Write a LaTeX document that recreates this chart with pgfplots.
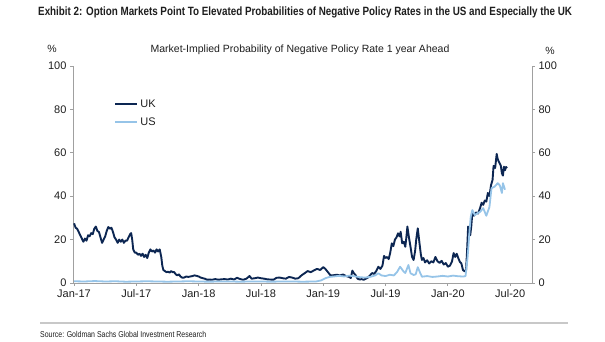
\documentclass[border=0pt]{standalone}
\usepackage{pgfplots}
\pgfplotsset{compat=1.18}
\usepackage{fontspec}
\setmainfont{Liberation Sans}
\newfontfamily\narrow[FakeStretch=0.82]{Liberation Sans}
\definecolor{ukc}{RGB}{12,38,82}
\definecolor{usc}{RGB}{150,196,232}
\definecolor{axc}{RGB}{160,160,160}
\definecolor{txc}{RGB}{30,30,30}
\begin{document}
\begin{tikzpicture}[x=1pt,y=1pt]
\useasboundingbox (0,0) rectangle (605,341);
\node[anchor=base west,inner sep=0pt,font=\narrow\bfseries\fontsize{12}{14}\selectfont,text=txc] at (38,325) {Exhibit 2: Option Markets Point To Elevated Probabilities of Negative Policy Rates in the US and Especially the UK};
\node[anchor=base,inner sep=0pt,font=\fontsize{10.5}{12}\selectfont,text=txc] at (300,289) {Market-Implied Probability of Negative Policy Rate 1 year Ahead};
\node[anchor=base,inner sep=0pt,font=\fontsize{10.5}{12}\selectfont,text=txc] at (52,288) {\%};
\node[anchor=base,inner sep=0pt,font=\fontsize{10.5}{12}\selectfont,text=txc] at (550,287) {\%};
\draw[color={rgb,255:red,200;green,200;blue,200},line width=1.5pt] (40,18) -- (568,18);
\node[anchor=base west,inner sep=0pt,font=\narrow\fontsize{8.5}{10}\selectfont,text=txc] at (40,4) {Source: Goldman Sachs Global Investment Research};
\begin{axis}[
  at={(73pt,58pt)}, anchor=south west,
  scale only axis, width=459pt, height=217pt,
  xmin=-0.1, xmax=44.1, ymin=0, ymax=100,
  axis x line*=bottom, axis y line*=left,
  axis line style={color=axc,line width=0.9pt},
  every tick/.style={color=axc,line width=0.9pt},
  tick align=outside, major tick length=3pt,
  xtick={0,6,12,18,24,30,36,42},
  xticklabels={Jan-17,Jul-17,Jan-18,Jul-18,Jan-19,Jul-19,Jan-20,Jul-20},
  ytick={0,20,40,60,80,100},
  ticklabel style={font=\fontsize{11}{13}\selectfont,text=txc},
  /pgf/number format/assume math mode=true,
  legend style={at={(rel axis cs:0.09,0.855)},anchor=north west,draw=none,fill=none,
    font=\fontsize{11}{13}\selectfont,text=txc,row sep=5pt,inner sep=0pt},
  legend cell align=left,
  legend image code/.code={\draw[#1] (0pt,0pt) -- (22pt,0pt);},
]
\addplot[color=ukc,line width=1.9pt,line join=round] coordinates {
(0.0,27.5)(0.15,25.5)(0.3,25)(0.45,23.5)(0.6,22)(0.75,20.5)(0.9,19)(1.05,20.5)(1.2,19.5)(1.35,22)
(1.5,21.5)(1.65,23)(1.8,22.5)(1.95,25)(2.1,26)(2.25,24)(2.4,23.5)(2.55,21)(2.7,18.5)(2.85,20)
(3.0,21.5)(3.15,24)(3.3,25.8)(3.45,25)(3.6,25.5)(3.75,23.5)(3.9,21)(4.05,20)(4.2,18.5)(4.35,20)
(4.5,19)(4.65,20)(4.8,18.5)(4.95,19.5)(5.1,19.5)(5.25,21)(5.4,22.5)(5.5,23)(5.6,20)(5.7,15.5)
(5.85,14)(6.0,14)(6.15,13)(6.3,13.5)(6.45,12.5)(6.6,13.5)(6.75,12)(6.9,13)(7.05,11.5)(7.2,14)
(7.35,15.5)(7.5,14.5)(7.65,15)(7.8,14)(7.95,15.5)(8.1,14.5)(8.25,15.5)(8.4,12)(8.5,8)(8.6,6)
(8.75,5.5)(8.9,5)(9.05,5.2)(9.2,4.8)(9.35,5.5)(9.5,5)(9.65,5)(9.8,4)(9.95,3.5)(10.1,4)
(10.25,3)(10.4,2.5)(10.6,2.5)(10.8,3)(11.0,2.8)(11.2,3)(11.4,3.2)(11.6,3.5)(11.8,3.3)(12.0,3)
(12.2,2.5)(12.4,2.2)(12.6,2)(12.8,1.5)(13.0,1.6)(13.3,1.5)(13.6,1.8)(13.9,1.5)(14.2,1.7)(14.5,1.8)
(14.8,1.6)(15.1,2)(15.4,1.6)(15.7,2.4)(16.0,1.8)(16.3,1.5)(16.6,2)(16.9,3.2)(17.1,2)(17.4,2.2)
(17.7,2.5)(18.0,2.2)(18.3,2)(18.6,1.7)(18.9,1.6)(19.2,1.5)(19.5,2.4)(19.8,2.5)(20.1,2.2)(20.4,2)
(20.7,2.8)(21.0,2.5)(21.3,2)(21.6,2.2)(21.9,3.5)(22.2,4.5)(22.5,5.5)(22.8,5)(23.1,5.8)(23.4,6.5)
(23.7,6)(24.0,7.3)(24.2,6.5)(24.45,5)(24.7,3.5)(25.0,3.6)(25.3,3.8)(25.6,3.5)(25.9,3.9)(26.2,3.2)
(26.5,2.8)(26.65,2.3)(26.8,5.7)(26.95,4.5)(27.1,3.7)(27.3,2.0)(27.5,1.6)(27.7,1.8)(27.9,1.5)(28.1,2.0)
(28.3,2.5)(28.5,3.5)(28.7,4.6)(28.9,4.2)(29.1,5.5)(29.3,7.5)(29.5,6.5)(29.7,8)(29.85,12.5)(30.0,11.5)
(30.15,12)(30.3,11)(30.45,14)(30.6,18.3)(30.75,17)(30.9,20)(31.05,21)(31.2,22.9)(31.35,21.5)(31.45,23.6)
(31.6,18.3)(31.75,19)(31.9,16.7)(32.0,21)(32.1,26)(32.25,21)(32.4,16.7)(32.55,12)(32.7,10.6)(32.85,15)
(32.95,20)(33.1,25.2)(33.25,19)(33.4,13)(33.5,10.6)(33.65,11.5)(33.8,9.5)(34.0,10.5)(34.2,9)(34.4,10)
(34.6,9.5)(34.8,12)(35.0,10)(35.2,9.3)(35.4,10.2)(35.6,8.5)(35.8,9.2)(36.0,7.5)(36.2,8)(36.4,10)
(36.55,13.8)(36.7,12)(36.85,13.5)(37.0,11.5)(37.15,9.8)(37.3,9)(37.45,6)(37.6,5.4)(37.75,6)(37.85,15)
(37.95,26)(38.05,24)(38.15,22)(38.25,26)(38.35,32)(38.5,31)(38.7,32.5)(38.9,32)(39.1,34.5)(39.25,37)
(39.4,36)(39.55,38)(39.7,37.5)(39.85,41.5)(40.0,40)(40.15,45)(40.3,47.5)(40.4,54)(40.55,53)(40.7,59.5)
(40.8,57)(40.9,56)(41.0,55)(41.1,54)(41.2,50.6)(41.3,49.5)(41.4,53.6)(41.5,52)(41.6,53.5)(41.7,53)
};
\addlegendentry{UK}
\addplot[color=usc,line width=1.8pt,line join=round] coordinates {
(0,0.8)(1,0.7)(2,0.9)(3,0.7)(4,0.8)(5,0.6)(6,0.7)(7,0.8)(8,0.7)(9,0.6)(10,0.7)(11,0.8)
(12,0.7)(13,0.6)(14,0.7)(15,0.7)(16,0.6)(17,0.7)(18,0.7)(19,0.6)(20,0.7)(21,0.7)(22,0.6)(23.3,0.7)
(23.8,1.2)(24.2,2.2)(24.6,2.8)(25.0,3.0)(25.5,3.3)(26.0,3.0)(26.5,3.4)(27.0,3.1)(27.5,2.7)(28.0,2.5)
(28.5,2.8)(29.0,3.5)(29.3,4.5)(29.6,3.5)(30.0,3.2)(30.4,3.8)(30.8,3.5)(31.1,5)(31.4,7.5)(31.7,5.5)
(31.9,4.6)(32.2,8.3)(32.4,4.5)(32.7,3.7)(32.9,4)(33.1,7.3)(33.3,5)(33.5,2.9)(34,3.2)(34.5,2.8)
(35,3)(35.5,3.3)(36,3)(36.5,3.4)(37,3.1)(37.5,3.0)(37.7,3.2)(37.9,12)(38.1,25)(38.2,30.5)
(38.35,33.6)(38.6,31.3)(38.8,32)(39.1,32.8)(39.4,34.5)(39.7,31)(40.0,35)(40.2,43.7)(40.5,44.4)(40.8,46)
(41.0,45)(41.2,41.5)(41.3,46)(41.5,43)
};
\addlegendentry{US}
\end{axis}
\begin{axis}[
  at={(73pt,58pt)}, anchor=south west,
  scale only axis, width=459pt, height=217pt,
  xmin=-0.1, xmax=44.1, ymin=0, ymax=100,
  axis x line=none, axis y line*=right,
  axis line style={color=axc,line width=0.9pt},
  every tick/.style={color=axc,line width=0.9pt},
  tick align=outside, major tick length=3pt,
  ytick={0,20,40,60,80,100},
  ticklabel style={font=\fontsize{11}{13}\selectfont,text=txc},
  /pgf/number format/assume math mode=true,
]
\addplot[draw=none] coordinates {(0,0)};
\end{axis}
\end{tikzpicture}
\end{document}
